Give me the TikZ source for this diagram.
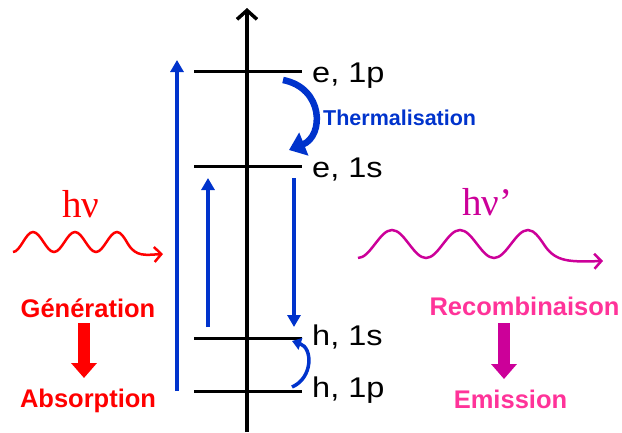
\documentclass[tikz,border=0pt]{standalone}
\usepackage{fontspec}
\setmainfont{Liberation Sans}
\newfontfamily\seriffont{Liberation Serif}
\usetikzlibrary{arrows.meta}
\definecolor{myblue}{RGB}{0,51,204}
\definecolor{myred}{RGB}{255,0,0}
\definecolor{mymag}{RGB}{204,0,153}
\definecolor{mypink}{RGB}{255,51,153}
\begin{document}
\begin{tikzpicture}[x=1pt,y=-1pt,
  level/.style={line width=3pt,black},
  lbl/.style={anchor=base west,inner sep=0pt,font=\fontsize{28.5}{30}\selectfont},
  blab/.style={anchor=base,inner sep=0pt,font=\fontsize{25.5}{28}\selectfont\bfseries},
  bluearr/.style={myblue,line width=3.5pt,-{Triangle[length=12pt,width=13pt]}},
  hvlab/.style={anchor=base west,inner sep=0pt,font=\fontsize{39}{40}\seriffont},
  bigarr/.style={line width=11.5pt,-{Triangle[length=15pt,width=25pt]}},
  wave/.style={line width=2.5pt,-{Straight Barb[length=7pt,width=15pt]}}
]
\useasboundingbox (0,0) rectangle (622,432);
% axis
\coordinate (axb) at (247,432);
\coordinate (axt) at (247,8);
\draw[line width=3.5pt,-{Straight Barb[length=9pt,width=20pt]}] (axb) -- (axt);
% levels
\coordinate (e1pL) at (194,71);  \coordinate (e1pR) at (302,71);
\coordinate (e1sL) at (194,166); \coordinate (e1sR) at (302,166);
\coordinate (h1sL) at (194,338); \coordinate (h1sR) at (302,338);
\coordinate (h1pL) at (194,391); \coordinate (h1pR) at (302,391);
\draw[level] (e1pL) -- (e1pR);
\draw[level] (e1sL) -- (e1sR);
\draw[level] (h1sL) -- (h1sR);
\draw[level] (h1pL) -- (h1pR);
\node[lbl] (le1p) at (312,82) {\scalebox{1.14}[1]{e, 1p}};
\node[lbl] (le1s) at (312,177) {\scalebox{1.14}[1]{e, 1s}};
\node[lbl] (lh1s) at (312,345) {\scalebox{1.14}[1]{h, 1s}};
\node[lbl] (lh1p) at (312,397) {\scalebox{1.14}[1]{h, 1p}};
% blue transitions
\coordinate (a1s) at (177,391); \coordinate (a1e) at (177,60);
\coordinate (a2s) at (208,327); \coordinate (a2e) at (208,178);
\coordinate (a3s) at (294,178); \coordinate (a3e) at (294,327);
\draw[bluearr] (a1s) -- (a1e);
\draw[bluearr] (a2s) -- (a2e);
\draw[bluearr] (a3s) -- (a3e);
% thermalisation
\coordinate (t1) at (283,80); \coordinate (t2) at (289,150);
\draw[myblue,line width=6.5pt,-{Triangle[length=16pt,width=24pt]}] (t1) .. controls (324,88) and (324,136) .. (t2);
\node[anchor=base west,inner sep=0pt,myblue,font=\fontsize{21.5}{24}\selectfont\bfseries] (therm) at (323,125) {Thermalisation};
\coordinate (s1) at (292,387); \coordinate (s2) at (292,341);
\draw[myblue,line width=3.5pt,-{Triangle[length=9pt,width=12pt]}] (s1) .. controls (313,378) and (313,348) .. (s2);
% left: photon in
\node[hvlab,myred] (hv) at (62,217) {hν};
\coordinate (w1s) at (13,252); \coordinate (w1e) at (163,254);
\draw[myred,wave] (w1s) cos (23,242) sin (33,232) cos (43.5,242) sin (54,252) cos (64.5,242) sin (75,232) cos (85.5,242) sin (96,252) cos (106.5,242) sin (117,232) cos (128,244) .. controls (136,257) and (145,255) .. (w1e);
\node[blab,myred] (gen) at (88,317) {Génération};
\node[blab,myred] (abs) at (88,407) {Absorption};
\coordinate (ra1) at (84,323); \coordinate (ra2) at (84,378);
\draw[myred,bigarr] (ra1) -- (ra2);
% right: photon out
\node[hvlab,mymag] (hvp) at (462,215) {hν’};
\coordinate (w2s) at (358,258); \coordinate (w2e) at (603,261);
\draw[mymag,wave] (w2s) cos (375,244) sin (392,230) cos (409,244) sin (426,258) cos (443,244) sin (460,230) cos (477,244) sin (494,258) cos (511,244) sin (528,230) cos (545,246) .. controls (556,262) and (570,262) .. (w2e);
\node[blab,mypink] (rec) at (524.5,315) {Recombinaison};
\node[blab,mypink] (emi) at (510.5,408) {Emission};
\coordinate (ma1) at (504,323); \coordinate (ma2) at (504,379);
\draw[mymag,bigarr] (ma1) -- (ma2);
\end{tikzpicture}
\end{document}
